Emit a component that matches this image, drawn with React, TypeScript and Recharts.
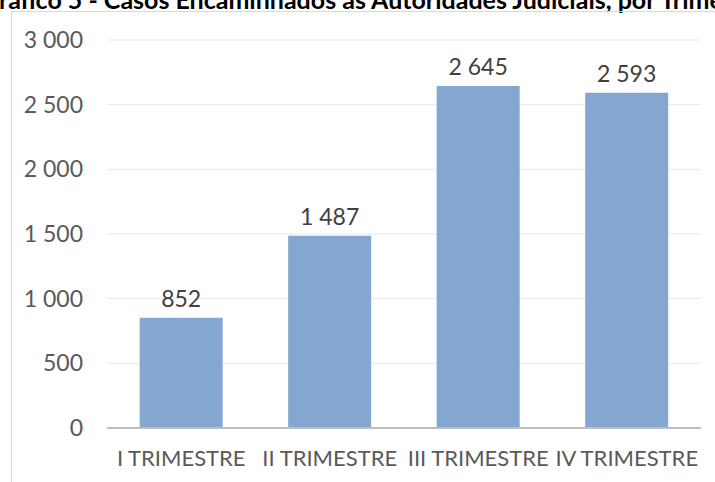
import { BarChart, Bar, XAxis, YAxis, CartesianGrid, LabelList } from 'recharts';

const title = 'Gráfico 5 - Casos Encaminhados às Autoridades Judiciais, por Trimestre';
const trimestres = ['I TRIMESTRE', 'II TRIMESTRE', 'III TRIMESTRE', 'IV TRIMESTRE'];
const casos = [852, 1487, 2645, 2593];
const yTicks = [0, 500, 1000, 1500, 2000, 2500, 3000];

const FONT = 'Lato, "Liberation Sans", Arial, sans-serif';

// "2 645" style thousands separator
const fmt = (v: number) => String(v).replace(/\B(?=(\d{3})+(?!\d))/g, ' ');

const data = trimestres.map((t, i) => ({ name: t, value: casos[i] }));

export default function App() {
    return (
        <div
            style={{
                position: 'absolute', left: 0, top: 0, width: 715, height: 482,
                overflow: 'hidden', background: '#fff', fontFamily: FONT,
            }}
        >
            {/* title is clipped by the page edge in the source */}
            <div
                style={{
                    position: 'absolute', left: -19, top: -13, whiteSpace: 'nowrap',
                    fontSize: 25, lineHeight: '25px', fontWeight: 'bold', color: '#000',
                }}
            >
                {title}
            </div>
            {/* chart frame, only left and top edges visible */}
            <div
                style={{
                    position: 'absolute', left: 11, top: 11, width: 800, height: 600,
                    border: '1.5px solid #d9d9d9', boxSizing: 'border-box',
                }}
            />
            <div style={{ position: 'absolute', left: 0, top: 0 }}>
                <BarChart
                    width={715}
                    height={482}
                    data={data}
                    barCategoryGap="22%"
                    margin={{ top: 40, right: 14, bottom: 0, left: 0 }}
                >
                    <CartesianGrid vertical={false} stroke="#e8e8e8" strokeWidth={1} />
                    <XAxis
                        dataKey="name"
                        height={54}
                        tickLine={false}
                        tickSize={0}
                        tickMargin={22}
                        axisLine={{ stroke: '#bfbfbf', strokeWidth: 2 }}
                        tick={{ fontSize: 22, fill: '#595959', fontFamily: FONT }}
                        interval={0}
                    />
                    <YAxis
                        width={107}
                        domain={[0, 3000]}
                        ticks={yTicks}
                        tickFormatter={fmt}
                        axisLine={false}
                        tickLine={false}
                        tickSize={0}
                        tickMargin={24}
                        tick={{ fontSize: 23, fill: '#595959', fontFamily: FONT }}
                    />
                    <Bar dataKey="value" fill="#84a7d1" isAnimationActive={false}>
                        <LabelList
                            dataKey="value"
                            position="top"
                            offset={11}
                            formatter={(v: any) => fmt(Number(v))}
                            style={{ fontSize: 23, fill: '#404040', fontFamily: FONT }}
                        />
                    </Bar>
                </BarChart>
            </div>
        </div>
    );
}
